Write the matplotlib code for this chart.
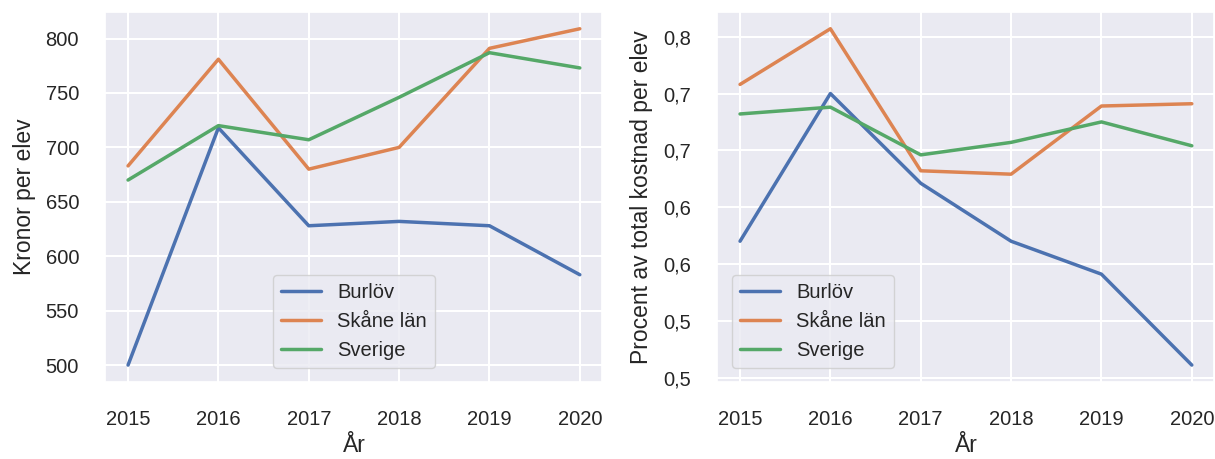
import matplotlib
matplotlib.use("Agg")
import matplotlib.pyplot as plt
import seaborn as sns
from matplotlib.ticker import FuncFormatter, MultipleLocator

years = [2015, 2016, 2017, 2018, 2019, 2020]
regions = ["Burlöv", "Skåne län", "Sverige"]

# kronor per elev
kr_burlov = [500, 718, 628, 632, 628, 583]
kr_skane = [683, 781, 680, 700, 791, 809]
kr_sverige = [670, 720, 707, 746, 787, 773]

# procent av total kostnad per elev
pct_burlov = [0.620, 0.750, 0.671, 0.620, 0.591, 0.511]
pct_skane = [0.758, 0.807, 0.682, 0.679, 0.739, 0.741]
pct_sverige = [0.732, 0.738, 0.696, 0.707, 0.725, 0.704]

sns.set_theme(style="darkgrid", rc={"grid.linewidth": 1.5})
plt.rcParams["font.family"] = "sans-serif"
plt.rcParams["font.sans-serif"] = ["Liberation Sans", "DejaVu Sans"]

colors = sns.color_palette("deep")

fig = plt.figure(figsize=(12.15, 4.59), dpi=100)
ax1 = fig.add_axes([0.0868, 0.168, 0.409, 0.806])
ax2 = fig.add_axes([0.5905, 0.168, 0.409, 0.806])


def trunc_fmt(v, pos):
    # labels in the source are truncated to one decimal, with a comma
    t = int(v * 10 + 1e-6) / 10
    return f"{t:.1f}".replace(".", ",")


for ax, series, ylabel, loc in [
    (ax1, [kr_burlov, kr_skane, kr_sverige], "Kronor per elev", "lower center"),
    (ax2, [pct_burlov, pct_skane, pct_sverige], "Procent av total kostnad per elev", "lower left"),
]:
    for i, (name, vals) in enumerate(zip(regions, series)):
        ax.plot(years, vals, color=colors[i], lw=2.5, label=name)
    ax.set_xlabel("År", fontsize=16.5, labelpad=4)
    ax.set_ylabel(ylabel, fontsize=16.5, labelpad=7)
    ax.tick_params(axis="both", labelsize=14.5, pad=19, length=0)
    ax.tick_params(axis="x", pad=20)
    ax.legend(loc=loc, fontsize=14.5, borderaxespad=0.7)

ax2.yaxis.set_major_locator(MultipleLocator(0.05))
ax2.yaxis.set_major_formatter(FuncFormatter(trunc_fmt))

fig.savefig("out.png", dpi=100)
